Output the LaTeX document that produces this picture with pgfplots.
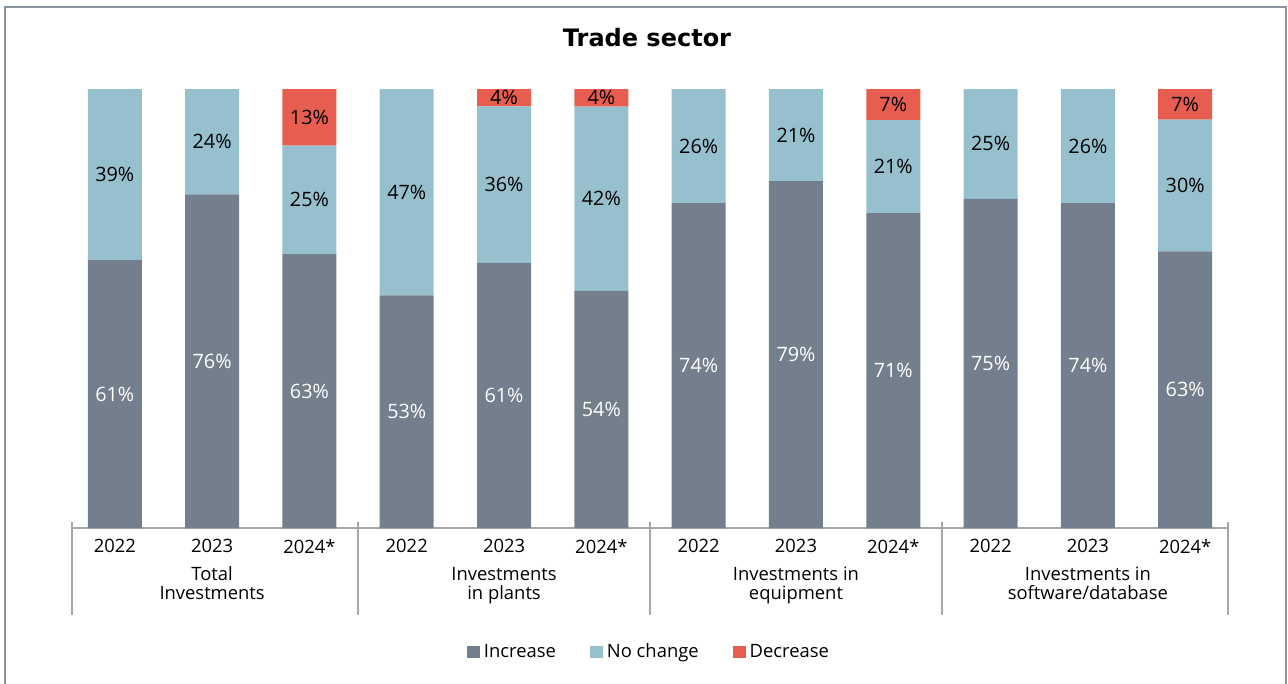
\documentclass[border=0pt]{standalone}
\usepackage{pgfplots}
\pgfplotsset{compat=1.18}
\usepackage{pgfplotstable}
\usepackage{fontspec}
\setmainfont{Open Sans}
\newfontfamily\titlefont{DejaVu Sans}
\definecolor{incc}{HTML}{737F8C}
\definecolor{ncc}{HTML}{97C0CE}
\definecolor{decc}{HTML}{E75D50}
\definecolor{framec}{HTML}{8A949E}
\definecolor{axgray}{HTML}{A5A7AA}
\pgfplotstableread{
x inc nc dec
0 61 39 0
1 76 24 0
2 63 25 13
3 53 47 0
4 61 36 4
5 54 42 4
6 74 26 0
7 79 21 0
8 71 21 7
9 75 25 0
10 74 26 0
11 63 30 7
}\data
\pgfplotsset{mybase/.style={at={(36pt,-264pt)}, anchor=south west, scale only axis,
  width=578pt, height=219.5pt, xmin=-0.44, xmax=11.44, ymin=0, ymax=100, clip=false}}
\newcommand{\lab}{\fontsize{9.2}{11}\selectfont}
\newcommand{\blab}{\fontsize{9.9}{12}\selectfont}
\begin{document}
\begin{tikzpicture}
\useasboundingbox (0,0) rectangle (644pt,-342pt);
\draw[framec, line width=0.9pt] (2.6pt,-3.6pt) rectangle (642.8pt,-360pt);
\node[font=\titlefont\fontsize{12}{14}\selectfont\bfseries] at (323.5pt,-19pt) {Trade sector};
\begin{axis}[mybase, ybar stacked, bar width=27pt,
  axis y line=none, axis x line*=bottom,
  x axis line style={axgray, line width=1pt, -},
  xtick={0,...,11},
  xticklabels={2022,2023,2024*,2022,2023,2024*,2022,2023,2024*,2022,2023,2024*},
  xtick style={draw=none},
  xticklabel style={anchor=center, yshift=-9.2pt, font=\lab},
  legend style={draw=none, at={(0.5,-0.2825)}, anchor=center, font=\lab,
    /tikz/every even column/.append style={column sep=15pt}},
  legend columns=3,
  legend image code/.code={\fill[#1] (0pt,-3pt) rectangle (6.5pt,3pt);},
]
\addplot[fill=incc, draw=none] table[x=x, y expr=\thisrow{inc}*100/(\thisrow{inc}+\thisrow{nc}+\thisrow{dec})] \data;
\addplot[fill=ncc, draw=none] table[x=x, y expr=\thisrow{nc}*100/(\thisrow{inc}+\thisrow{nc}+\thisrow{dec})] \data;
\addplot[fill=decc, draw=none] table[x=x, y expr=\thisrow{dec}*100/(\thisrow{inc}+\thisrow{nc}+\thisrow{dec})] \data;
\legend{Increase, No change, Decrease}
\draw[axgray, line width=1pt] ([yshift=3pt]axis cs:-0.44,0) -- ([yshift=-43.5pt]axis cs:-0.44,0);
\draw[axgray, line width=1pt] ([yshift=3pt]axis cs:2.5,0) -- ([yshift=-43.5pt]axis cs:2.5,0);
\draw[axgray, line width=1pt] ([yshift=3pt]axis cs:5.5,0) -- ([yshift=-43.5pt]axis cs:5.5,0);
\draw[axgray, line width=1pt] ([yshift=3pt]axis cs:8.5,0) -- ([yshift=-43.5pt]axis cs:8.5,0);
\draw[axgray, line width=1pt] ([yshift=3pt]axis cs:11.44,0) -- ([yshift=-43.5pt]axis cs:11.44,0);
\node[font=\lab, anchor=base] at ([yshift=-26pt]axis cs:1,0) {Total};
\node[font=\lab, anchor=base] at ([yshift=-35.5pt]axis cs:1,0) {Investments};
\node[font=\lab, anchor=base] at ([yshift=-26pt]axis cs:4,0) {Investments};
\node[font=\lab, anchor=base] at ([yshift=-35.5pt]axis cs:4,0) {in plants};
\node[font=\lab, anchor=base] at ([yshift=-26pt]axis cs:7,0) {Investments in};
\node[font=\lab, anchor=base] at ([yshift=-35.5pt]axis cs:7,0) {equipment};
\node[font=\lab, anchor=base] at ([yshift=-26pt]axis cs:10,0) {Investments in};
\node[font=\lab, anchor=base] at ([yshift=-35.5pt]axis cs:10,0) {software/database};
\end{axis}
\begin{axis}[mybase, hide axis,
  /pgf/number format/assume math mode=true,
  nodes near coords={\pgfmathfloatifflags{\pgfplotspointmeta}{0}{}{\pgfmathprintnumber{\pgfplotspointmeta}\%}},
  nodes near coords style={anchor=center, font=\blab, inner sep=0pt}]
\addplot[draw=none, mark=none, nodes near coords style={text=white}, point meta=\thisrow{inc}]
  table[x=x, y expr=\thisrow{inc}*50/(\thisrow{inc}+\thisrow{nc}+\thisrow{dec})] \data;
\addplot[draw=none, mark=none, point meta=\thisrow{nc}]
  table[x=x, y expr=(\thisrow{inc}+\thisrow{nc}/2)*100/(\thisrow{inc}+\thisrow{nc}+\thisrow{dec})] \data;
\addplot[draw=none, mark=none, point meta=\thisrow{dec}]
  table[x=x, y expr=(\thisrow{inc}+\thisrow{nc}+\thisrow{dec}/2)*100/(\thisrow{inc}+\thisrow{nc}+\thisrow{dec})] \data;
\end{axis}
\end{tikzpicture}
\end{document}
